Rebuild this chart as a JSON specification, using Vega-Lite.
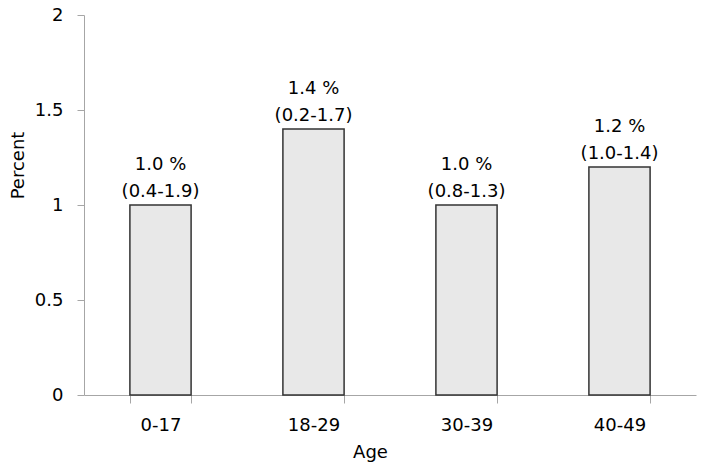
{
  "$schema": "https://vega.github.io/schema/vega-lite/v6.json",
  "width": 612,
  "height": 380,
  "autosize": {"type": "none"},
  "padding": {"left": 84, "top": 15, "right": 8, "bottom": 75},
  "background": "white",
  "config": {
    "view": {"stroke": null},
    "font": "DejaVu Sans",
    "axis": {"labelFont": "DejaVu Sans", "titleFont": "DejaVu Sans", "labelColor": "#000", "titleColor": "#000", "labelFontSize": 18, "titleFontSize": 18, "titleFontWeight": "normal", "grid": false, "domainColor": "#a6a6a6", "tickColor": "#a6a6a6", "domainWidth": 1, "tickWidth": 1}
  },
  "data": {
    "values": [
      {"age": "0-17", "pct": 1.0, "line1": "1.0 %", "line2": "(0.4-1.9)"},
      {"age": "18-29", "pct": 1.4, "line1": "1.4 %", "line2": "(0.2-1.7)"},
      {"age": "30-39", "pct": 1.0, "line1": "1.0 %", "line2": "(0.8-1.3)"},
      {"age": "40-49", "pct": 1.2, "line1": "1.2 %", "line2": "(1.0-1.4)"}
    ]
  },
  "encoding": {
    "x": {
      "field": "age", "type": "nominal", "sort": null,
      "scale": {"paddingInner": 0.6, "paddingOuter": 0.3},
      "axis": {"title": "Age", "labelAngle": 0, "tickBand": "extent", "tickSize": 8, "labelPadding": 13, "labelBaseline": "top", "titleX": 286, "titleY": 62, "titleBaseline": "alphabetic", "titleAnchor": null, "titleAlign": "center"}
    },
    "y": {
      "field": "pct", "type": "quantitative",
      "scale": {"domain": [0, 2], "nice": false},
      "axis": {"title": "Percent", "values": [0, 0.5, 1, 1.5, 2], "labelExpr": "'' + datum.value", "tickSize": 7, "labelPadding": 14, "titleX": -61, "titleY": 150, "titleBaseline": "alphabetic", "titleAngle": -90, "titleAlign": "center"}
    }
  },
  "layer": [
    {"mark": {"type": "bar", "fill": "#e8e8e8", "stroke": "#333333", "strokeWidth": 1.5}},
    {"mark": {"type": "text", "baseline": "alphabetic", "dy": -35, "fontSize": 18, "color": "#000"}, "encoding": {"text": {"field": "line1"}}},
    {"mark": {"type": "text", "baseline": "alphabetic", "dy": -8, "fontSize": 18, "color": "#000"}, "encoding": {"text": {"field": "line2"}}}
  ]
}
